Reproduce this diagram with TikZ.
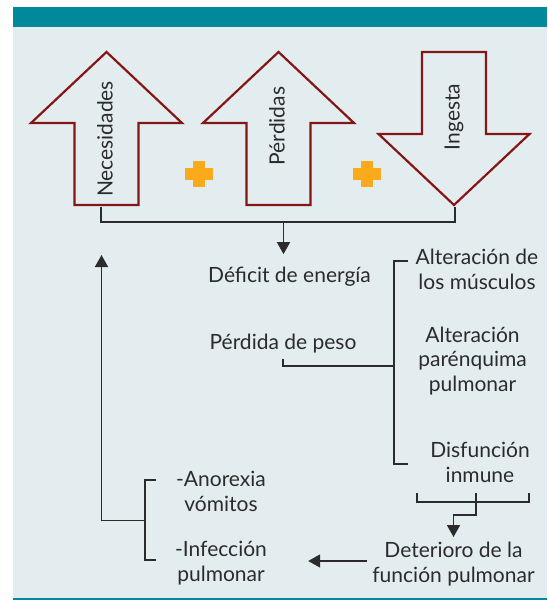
\documentclass[tikz,border=0pt]{standalone}
\usepackage{fontspec}
\setmainfont{Lato}
\usetikzlibrary{arrows.meta}
\definecolor{barcol}{HTML}{00899A}
\definecolor{panelcol}{HTML}{E3EDF0}
\definecolor{textcol}{HTML}{2B2B2B}
\definecolor{arrowcol}{HTML}{851616}
\definecolor{pluscol}{HTML}{FBAA1B}
\begin{document}
\begin{tikzpicture}[
            x = 1pt, y = -1pt,
            txt/.style = {text = textcol, font = \fontsize{21}{24.5}\selectfont, align = center, inner sep = 5pt},
            vert/.style = {txt, rotate = 90},
            blockarrow/.style = {draw = arrowcol, line width = 2.2pt, line join = miter},
            plusmark/.style = {fill = pluscol},
            wire/.style = {draw = textcol, line width = 1.6pt},
            arr/.style = {wire, -{Triangle[width = 13pt, length = 12pt]}},
        ]
        \useasboundingbox (0,0) rectangle (547,601);
        \path[fill = panelcol] (12.5,27) rectangle (547,598);
        \path[fill = barcol] (12.5,7) rectangle (547,27);
        \path[draw = barcol, line width = 2pt] (12.5,599) -- (547,599);

        \path[blockarrow] (74.5,205) -- (74.5,123) -- (31,123) -- (106.5,52) -- (182,123) -- (138.5,123) -- (138.5,205) -- cycle;
        \path[blockarrow] (246.5,205) -- (246.5,123) -- (203,123) -- (278.5,52) -- (354,123) -- (310.5,123) -- (310.5,205) -- cycle;
        \path[blockarrow] (422,52) -- (422,134) -- (378.5,134) -- (454,205) -- (529.5,134) -- (486,134) -- (486,52) -- cycle;

        \path[plusmark] (193,161) rectangle (205,187);
        \path[plusmark] (185,168) rectangle (213,180);
        \path[plusmark] (361,161) rectangle (373,187);
        \path[plusmark] (353,168) rectangle (381,180);

        \node (nec) [vert] at (105,139) {Necesidades};
        \node (perd) [vert] at (277,126) {Pérdidas};
        \node (ing) [vert] at (454,117) {Ingesta};

        \node (deficit) [txt] at (289.5,277) {Déficit de energía};
        \node (peso) [txt] at (283,344) {Pérdida de peso};
        \node (musc) [txt] at (477,269.5) {Alteración de\\los músculos};
        \node (paren) [txt] at (472.5,361) {Alteración\\parénquima\\pulmonar};
        \node (inmune) [txt] at (480,462.5) {Disfunción\\inmune};
        \node (deter) [txt] at (453.5,564) {Deterioro de la\\función pulmonar};
        \node (anorex) [txt] at (221,491.5) {-Anorexia\\vómitos};
        \node (infec) [txt] at (221,563) {-Infección\\pulmonar};

        \coordinate (bl) at (101,207);
        \coordinate (br) at (455,207);
        \coordinate (j1) at (283.5,222);
        \coordinate (rt) at (408,261);
        \coordinate (rb) at (408,464);
        \coordinate (j2) at (394,366);
        \coordinate (il) at (417,493);
        \coordinate (im) at (476,493);
        \coordinate (ir) at (529,493);
        \coordinate (lt) at (156,480);
        \coordinate (lb) at (156,560);
        \coordinate (j3) at (145,520.5);
        \coordinate (up) at (101.5,255);

        \path[wire] (bl) -- ++(0,15) -| (br);
        \path[arr, shorten >= 8pt] (j1) -- (j1 |- deficit.north);

        \path[wire] (rt) -- ++(-14,0) |- (rb);
        \path[wire] (peso.south) |- (j2);

        \path[wire] (il) -- ++(0,9) -| (ir);
        \path[arr] (im) -- ++(0,22) -| (deter.north);

        \path[arr] ([yshift = 3pt]deter.west) -- ++(-59,0);

        \path[wire] (lt) -- ++(-11,0) |- (lb);
        \path[arr] (j3) -| (up);
    \end{tikzpicture}
\end{document}
